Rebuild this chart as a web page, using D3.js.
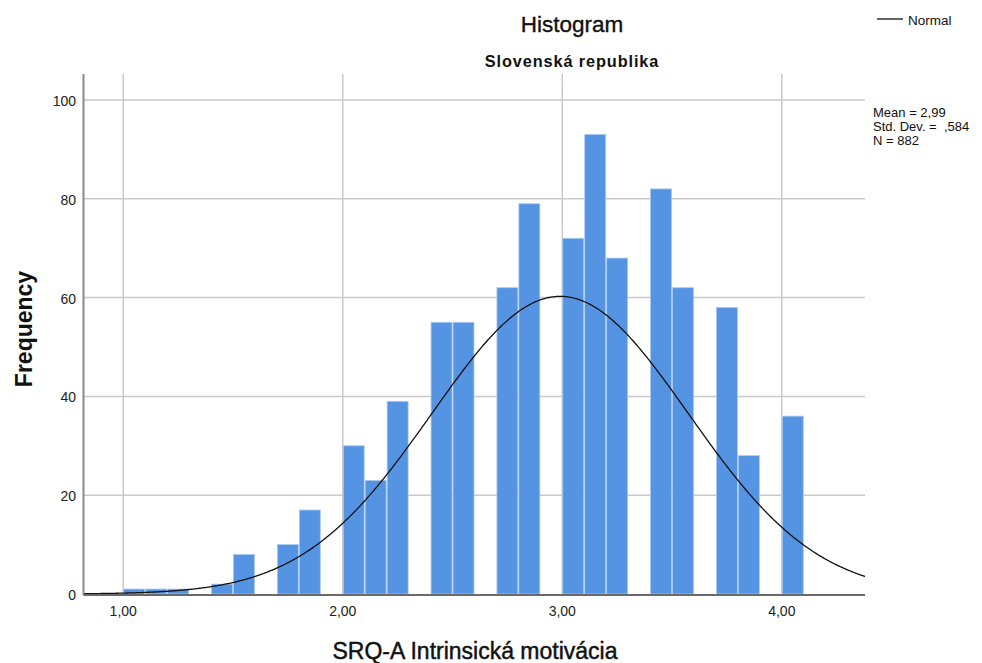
<!DOCTYPE html>
<html>
<head>
<meta charset="utf-8">
<script src="https://cdn.jsdelivr.net/npm/d3@7"></script>
<style>
  html, body { margin: 0; padding: 0; background: #ffffff; }
  svg { display: block; font-family: "Liberation Sans", Arial, sans-serif; }
</style>
</head>
<body>
<svg id="chart" width="982" height="663"></svg>
<script>
// ---- Data ----
const binStarts = [1.0,1.1,1.2,1.3,1.4,1.5,1.6,1.7,1.8,1.9,2.0,2.1,2.2,2.3,2.4,2.5,2.6,2.7,2.8,2.9,3.0,3.1,3.2,3.3,3.4,3.5,3.6,3.7,3.8,3.9,4.0];
const counts    = [1,  1,  1,  0,  2,  8,  0,  10, 17, 0,  30, 23, 39, 0,  55, 55, 0,  62, 79, 0,  72, 93, 68, 0,  82, 62, 0,  58, 28, 0,  36];
const binWidth = 0.1;
const xTicks = [1, 2, 3, 4];
const xTickLabels = ["1,00", "2,00", "3,00", "4,00"];
const yTicks = [0, 20, 40, 60, 80, 100];
const yTickLabels = ["0", "20", "40", "60", "80", "100"];
const statMean = 2.99, statSD = 0.584, statN = 882;
const statLines = ["Mean = 2,99", "Std. Dev. =  ,584", "N = 882"];

// ---- Layout ----
(function () {
const svg = d3.select("#chart");
const pLeft = 83.5, pRight = 865, pTop = 74, pBottom = 594;
const x = d3.scaleLinear().domain([0.819, 4.379]).range([pLeft, pRight]);
const y = d3.scaleLinear().domain([0, 100]).range([pBottom, 100]);

// gridlines
const grid = svg.append("g");
grid.selectAll("line.h").data(yTicks.filter(d => d > 0)).join("line")
  .attr("x1", pLeft).attr("x2", pRight)
  .attr("y1", d => y(d)).attr("y2", d => y(d))
  .attr("stroke", "#c9c9c9").attr("stroke-width", 1.5);
grid.selectAll("line.v").data(xTicks).join("line")
  .attr("x1", d => x(d)).attr("x2", d => x(d))
  .attr("y1", pTop).attr("y2", pBottom)
  .attr("stroke", "#c9c9c9").attr("stroke-width", 1.5);

// bars
const bars = binStarts.map((b, i) => ({ x0: b, x1: b + binWidth, c: counts[i] })).filter(d => d.c > 0);
svg.append("g").selectAll("rect").data(bars).join("rect")
  .attr("x", d => x(d.x0) + 0.5)
  .attr("width", d => x(d.x1) - x(d.x0) - 1)
  .attr("y", d => y(d.c))
  .attr("height", d => y(0) - y(d.c))
  .attr("fill", "#5593e3")
  .attr("stroke", "#a9c9f1")
  .attr("stroke-width", 0.8);

// normal curve
const normPts = d3.range(0.819, 4.3791, 0.005).map(v => [v,
  statN * binWidth / (statSD * Math.sqrt(2 * Math.PI)) * Math.exp(-0.5 * Math.pow((v - statMean) / statSD, 2))]);
svg.append("path")
  .attr("d", d3.line().x(d => x(d[0])).y(d => y(d[1])).curve(d3.curveBasis)(normPts))
  .attr("fill", "none").attr("stroke", "#111").attr("stroke-width", 1.3);

// axes lines
svg.append("line").attr("x1", pLeft).attr("x2", pLeft).attr("y1", pTop).attr("y2", pBottom + 1)
  .attr("stroke", "#8a8a8a").attr("stroke-width", 2);
svg.append("line").attr("x1", pLeft).attr("x2", pRight).attr("y1", pBottom + 1).attr("y2", pBottom + 1)
  .attr("stroke", "#6a6a6a").attr("stroke-width", 2);

// tick labels
svg.append("g").selectAll("text").data(yTicks).join("text")
  .attr("x", 76).attr("y", d => y(d) + 6)
  .attr("text-anchor", "end").attr("font-size", 14).attr("fill", "#222")
  .text((d, i) => yTickLabels[i]);
svg.append("g").selectAll("text").data(xTicks).join("text")
  .attr("x", d => x(d)).attr("y", 616)
  .attr("text-anchor", "middle").attr("font-size", 14).attr("fill", "#222")
  .text((d, i) => xTickLabels[i]);

// titles
svg.append("text").attr("x", 572).attr("y", 32).attr("text-anchor", "middle")
  .attr("font-size", 22.5).attr("fill", "#111").attr("stroke", "#111").attr("stroke-width", 0.35)
  .text("Histogram");
svg.append("text").attr("x", 572).attr("y", 67).attr("text-anchor", "middle")
  .attr("font-size", 16.3).attr("font-weight", "bold").attr("letter-spacing", 0.9).attr("fill", "#111")
  .text("Slovenská republika");

// axis titles
svg.append("text").attr("transform", "translate(31.5,329) rotate(-90)").attr("text-anchor", "middle")
  .attr("font-size", 23).attr("font-weight", "bold").attr("fill", "#111").text("Frequency");
svg.append("text").attr("x", 475).attr("y", 659).attr("text-anchor", "middle")
  .attr("font-size", 23).attr("fill", "#111").attr("stroke", "#111").attr("stroke-width", 0.45)
  .text("SRQ-A Intrinsická motivácia");

// legend
svg.append("line").attr("x1", 877).attr("x2", 903).attr("y1", 19).attr("y2", 19)
  .attr("stroke", "#111").attr("stroke-width", 1.3);
svg.append("text").attr("x", 908).attr("y", 25).attr("font-size", 13.5).attr("fill", "#111").text("Normal");
svg.append("g").selectAll("text").data(statLines).join("text")
  .attr("x", 873).attr("y", (d, i) => 116.5 + i * 14.2)
  .attr("font-size", 13).attr("fill", "#111").attr("xml:space", "preserve")
  .style("white-space", "pre")
  .text(d => d);
})();
</script>
</body>
</html>
